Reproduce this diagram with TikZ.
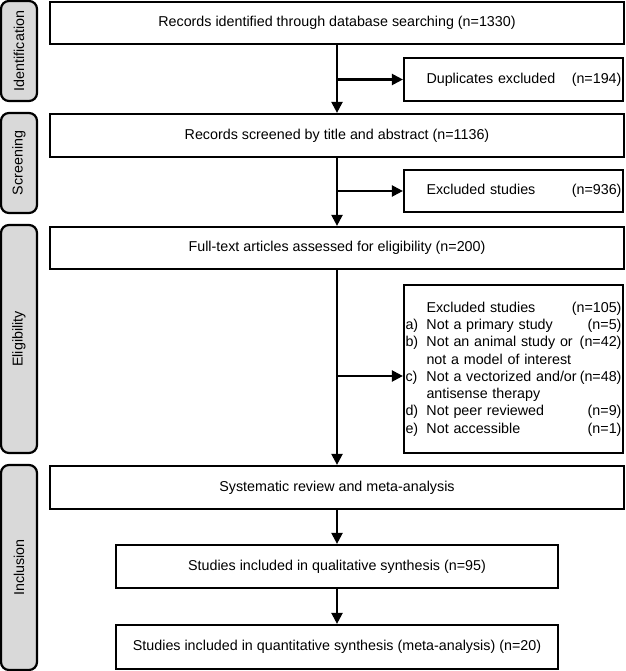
\documentclass[tikz,border=0pt]{standalone}
\usepackage{fontspec}
\setmainfont{Liberation Sans}
\usetikzlibrary{arrows.meta}

\newcommand{\exitem}[3]{\makebox[21pt][l]{#1}#2\hfill#3}

\begin{document}
\begin{tikzpicture}[x=1pt,y=-1pt,line width=2.2pt,
                    font=\fontsize{14.3}{17.3}\selectfont,
                    main box/.style={draw,minimum height=42pt,inner sep=0pt},
                    side box/.style={draw,text width=216pt,align=left,inner xsep=1.5pt,inner ysep=0pt},
                    phase box/.style={draw,fill=black!15,rounded corners=8pt,minimum height=36pt,rotate=90},
                    flow/.style={-{Triangle[length=11pt,width=11pt]}}]

        \useasboundingbox (0,0) rectangle (625,671);

        % Define phases
        \node[phase box,minimum width=100pt] (ident) at (19,51) {Identification};
        \node[phase box,minimum width=100pt] (screen) at (19,163) {Screening};
        \node[phase box,minimum width=228pt] (elig) at (19,339) {Eligibility};
        \node[phase box,minimum width=205pt] (incl) at (19,567.5) {Inclusion};

        % Define boxes
        \node[main box,minimum width=574pt] (found) at (337,23) {Records identified through database searching (n=1330)};
        \node[main box,minimum width=574pt,minimum height=43pt] (screened) at (337,135.5) {Records screened by title and abstract (n=1136)};
        \node[main box,minimum width=574pt] (fulltext) at (337,248) {Full-text articles assessed for eligibility (n=200)};
        \node[main box,minimum width=574pt,minimum height=43pt] (review) at (337,487.5) {Systematic review and meta-analysis};
        \node[main box,minimum width=442pt,minimum height=43pt] (quali) at (337,566.5) {Studies included in qualitative synthesis (n=95)};
        \node[main box,minimum width=442pt,minimum height=44pt] (quanti) at (337,647) {Studies included in quantitative synthesis (meta-analysis) (n=20)};

        \node[side box,minimum height=43pt] (dupl) at (513.5,79.5) {\exitem{}{Duplicates excluded}{(n=194)}};
        \node[side box,minimum height=42pt] (excl1) at (513.5,191) {\exitem{}{Excluded studies}{(n=936)}};
        \node[side box,minimum height=168pt] (excl2) at (513.5,369) {%
            \exitem{}{Excluded studies}{(n=105)}\\
            \exitem{a)}{Not a primary study}{(n=5)}\\
            \exitem{b)}{Not an animal study or}{(n=42)}\\
            \exitem{}{not a model of interest}{}\\
            \exitem{c)}{Not a vectorized and/or}{(n=48)}\\
            \exitem{}{antisense therapy}{}\\
            \exitem{d)}{Not peer reviewed}{(n=9)}\\
            \exitem{e)}{Not accessible}{(n=1)}};

        \coordinate (fork) at (337,376);

        % Draw edges
        \draw[flow] (found) -- (screened);
        \draw[flow] (found.south |- dupl.west) -- (dupl.west);
        \draw[flow] (screened) -- (fulltext);
        \draw[flow] (screened.south |- excl1.west) -- (excl1.west);
        \draw[flow] (fulltext) -- (review);
        \draw[flow] (fork) -- (fork -| excl2.west);
        \draw[flow] (review) -- (quali);
        \draw[flow] (quali) -- (quanti);

\end{tikzpicture}
\end{document}
